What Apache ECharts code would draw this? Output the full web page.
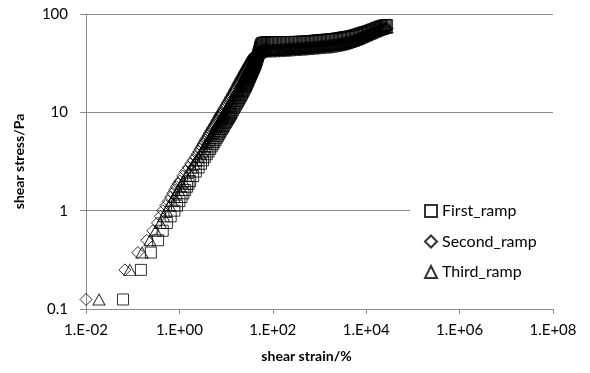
<!DOCTYPE html>
<html>
<head>
<meta charset="utf-8">
<script src="https://cdn.jsdelivr.net/npm/echarts@6/dist/echarts.min.js"></script>
<style>html,body{margin:0;padding:0;background:#fff;}#c{width:590px;height:373px;}</style>
</head>
<body>
<div id="c"></div>
<script>
// points are [shear strain %, shear stress Pa]
const firstRampLow = [
[0.062,0.125],[0.15,0.25],[0.245,0.375],[0.35,0.5],[0.44,0.625],[0.54,0.75],[0.65,0.875],[0.78,1.0],
[0.89,1.125],[1.0,1.25],[1.11,1.375],[1.22,1.5],[1.33,1.625],[1.45,1.75],[1.57,1.875]
];
const firstRampRise = [
[1.7,2],[1.97,2.25],[2.25,2.5],[2.57,2.75],[2.9,3],[3.2,3.25],[3.5,3.5],[3.85,3.75],[4.2,4],[4.55,4.25],
[4.9,4.5],[5.25,4.75],[5.6,5],[5.95,5.25],[6.3,5.5],[6.65,5.75],[7.0,6],[7.35,6.25],[7.7,6.5],[8.1,6.75],
[8.5,7],[8.85,7.25],[9.2,7.5],[9.6,7.75],[10.0,8],[10.4,8.25],[10.8,8.5],[11.2,8.75],[11.6,9],[12.0,9.25],
[12.4,9.5],[12.8,9.75],[13.2,10],[14.0,10.5],[14.8,11],[15.6,11.5],[16.4,12],[17.2,12.5],[18,13],[18.8,13.5],
[19.6,14],[20.4,14.5],[21.2,15],[21.9,15.5],[22.7,16],[23.5,16.5],[24.2,17],[25,17.5],[25.8,18],[26.4,18.5],
[27.1,19],[27.8,19.5],[28.5,20],[29.2,20.5],[29.8,21],[30.4,21.5],[31,22],[31.7,22.5],[32.3,23],[32.9,23.5],
[33.5,24],[34.2,24.5],[34.8,25],[35.4,25.5],[36,26],[36.7,26.5],[37.3,27],[37.9,27.5],[38.5,28],[39.2,28.5],
[39.8,29],[40.4,29.5],[41,30],[41.5,30.5],[42,31],[42.5,31.5],[43,32],[43.5,32.5],[44,33],[44.5,33.5],
[45,34],[46,35],[47,36],[47.8,37],[48.5,38],[49.3,39],[50,40],[50.8,41],[51.5,42],[52.2,43],
[53,44],[53.5,45],[54,46],[54.8,47],[55.5,48],[56.4,49],[57.5,50],[59.5,50.5],[62,51],[66,51.3],
[70,51.5],[75,51.6]
];
const firstRampPlateau = [
[80,51.7],[85,51.7],[91,51.8],[97,51.8],[104,51.8],[111,51.8],[118,51.8],[126,51.8],[135,51.8],[144,51.8],
[154,51.8],[164,51.9],[175,51.9],[187,51.9],[200,51.9],[214,51.9],[228,51.9],[244,51.9],[260,51.9],[278,52],
[296,52],[317,52],[338,52],[361,52.1],[385,52.1],[411,52.2],[439,52.3],[469,52.4],[500,52.5],[534,52.6],
[570,52.7],[609,52.85],[650,53],[694,53.15],[741,53.3],[791,53.45],[845,53.6],[902,53.75],[963,53.9],[1030,54.05],
[1100,54.2],[1170,54.35],[1250,54.5],[1340,54.65],[1430,54.8],[1530,54.95],[1630,55.1],[1740,55.25],[1850,55.4],[1980,55.6],
[2110,55.8],[2250,56.05],[2410,56.3],[2570,56.6],[2750,56.9],[2930,57.2],[3130,57.5],[3340,57.8],[3570,58.1],[3810,58.35],
[4070,58.6],[4350,58.95],[4640,59.3],[4950,59.75],[5290,60.2],[5650,60.75],[6030,61.3],[6440,61.9],[6870,62.5],[7330,63.15],
[7830,63.8],[8360,64.4],[8930,65],[9540,65.6],[10200,66.2],[10900,66.9],[11600,67.6],[12400,68.35],[13200,69.1],[14100,69.95],
[15100,70.8],[16100,71.7],[17200,72.6],[18400,73.5],[19600,74.4],[20900,75.1],[22300,75.8],[23800,76.3],[25400,76.8],[26700,77.1],
[28000,77.4]
];
const secondRampLow = [
[0.010,0.125],[0.068,0.25],[0.129,0.375],[0.20,0.5],[0.27,0.625],[0.34,0.75],[0.39,0.875],[0.44,1.0],
[0.51,1.125],[0.58,1.25],[0.65,1.375],[0.72,1.5],[0.79,1.625],[0.86,1.75],[0.94,1.875]
];
const secondRampRise = [
[1.02,2],[1.18,2.25],[1.35,2.5],[1.55,2.75],[1.75,3],[1.97,3.25],[2.2,3.5],[2.4,3.75],[2.6,4],[2.8,4.25],
[3.0,4.5],[3.2,4.75],[3.4,5],[3.62,5.25],[3.85,5.5],[4.07,5.75],[4.3,6],[4.52,6.25],[4.75,6.5],[4.97,6.75],
[5.2,7],[5.45,7.25],[5.7,7.5],[5.95,7.75],[6.2,8],[6.42,8.25],[6.65,8.5],[6.87,8.75],[7.1,9],[7.35,9.25],
[7.6,9.5],[7.85,9.75],[8.1,10],[8.6,10.5],[9.1,11],[9.65,11.5],[10.2,12],[10.7,12.5],[11.2,13],[11.75,13.5],
[12.3,14],[12.85,14.5],[13.4,15],[13.95,15.5],[14.5,16],[15,16.5],[15.5,17],[16.05,17.5],[16.6,18],[17.15,18.5],
[17.7,19],[18.25,19.5],[18.8,20],[19.35,20.5],[19.9,21],[20.45,21.5],[21,22],[21.6,22.5],[22.2,23],[22.75,23.5],
[23.3,24],[23.85,24.5],[24.4,25],[24.95,25.5],[25.5,26],[26.15,26.5],[26.8,27],[27.4,27.5],[28,28],[28.6,28.5],
[29.2,29],[29.85,29.5],[30.5,30],[31.15,30.5],[31.8,31],[32.4,31.5],[33,32],[33.6,32.5],[34.2,33],[34.85,33.5],
[35.5,34],[36.1,34.5],[36.7,35],[37.35,35.5],[38,36],[38.75,36.5],[39.5,37],[40.25,37.5],[41,38],[42,38.5],
[43,39],[45,39.5],[47.5,40],[50,40.5],[53,40.8],[57,41],[62,41.2],[66,41.3],[72,41.4],[78,41.5]
];
const secondRampPlateau = [
[84,41.55],[91,41.6],[97,41.65],[104,41.7],[111,41.75],[118,41.8],[126,41.85],[135,41.9],[144,41.95],[154,42],
[164,42.1],[175,42.2],[187,42.25],[200,42.3],[214,42.4],[228,42.5],[244,42.6],[260,42.7],[278,42.8],[296,42.9],
[317,43],[338,43.1],[361,43.15],[385,43.2],[411,43.3],[439,43.4],[469,43.5],[500,43.6],[534,43.7],[570,43.8],
[609,43.9],[650,44],[694,44.1],[741,44.2],[791,44.35],[845,44.5],[902,44.6],[963,44.7],[1030,44.85],[1100,45],
[1170,45.1],[1250,45.2],[1340,45.35],[1430,45.5],[1530,45.6],[1630,45.7],[1740,45.8],[1850,45.9],[1980,46.1],[2110,46.3],
[2250,46.55],[2410,46.8],[2570,47.1],[2750,47.4],[2930,47.7],[3130,48],[3340,48.3],[3570,48.6],[3810,48.95],[4070,49.3],
[4350,49.75],[4640,50.2],[4950,50.75],[5290,51.3],[5650,51.95],[6030,52.6],[6440,53.3],[6870,54],[7330,54.8],[7830,55.6],
[8360,56.4],[8930,57.2],[9540,58.05],[10200,58.9],[10900,59.75],[11600,60.6],[12400,61.45],[13200,62.3],[14100,63.2],[15100,64.1],
[16100,65],[17200,65.9],[18400,66.65],[19600,67.4],[20900,68.15],[22300,68.9],[23800,69.6],[25400,70.3],[26700,70.8],[28000,71.3]
];
const thirdRampLow = [
[0.019,0.125],[0.087,0.25],[0.158,0.375],[0.234,0.5],[0.31,0.625],[0.39,0.75],[0.46,0.875],[0.53,1.0],
[0.61,1.125],[0.69,1.25],[0.78,1.375],[0.86,1.5],[0.95,1.625],[1.03,1.75],[1.12,1.875]
];
const thirdRampRise = [
[1.21,2],[1.4,2.25],[1.6,2.5],[1.82,2.75],[2.05,3],[2.3,3.25],[2.55,3.5],[2.8,3.75],[3.05,4],[3.28,4.25],
[3.5,4.5],[3.75,4.75],[4.0,5],[4.25,5.25],[4.5,5.5],[4.75,5.75],[5.0,6],[5.25,6.25],[5.5,6.5],[5.77,6.75],
[6.05,7],[6.32,7.25],[6.6,7.5],[6.87,7.75],[7.15,8],[7.42,8.25],[7.7,8.5],[7.97,8.75],[8.25,9],[8.52,9.25],
[8.8,9.5],[9.1,9.75],[9.4,10],[9.95,10.5],[10.5,11],[11.1,11.5],[11.7,12],[12.3,12.5],[12.9,13],[13.5,13.5],
[14.1,14],[14.7,14.5],[15.3,15],[15.9,15.5],[16.5,16],[17.1,16.5],[17.7,17],[18.3,17.5],[18.9,18],[19.5,18.5],
[20.1,19],[20.7,19.5],[21.3,20],[21.9,20.5],[22.5,21],[23.1,21.5],[23.7,22],[24.3,22.5],[24.9,23],[25.5,23.5],
[26.1,24],[26.7,24.5],[27.3,25],[27.9,25.5],[28.5,26],[29.15,26.5],[29.8,27],[30.4,27.5],[31,28],[31.6,28.5],
[32.2,29],[32.85,29.5],[33.5,30],[34.1,30.5],[34.7,31],[35.35,31.5],[36,32],[36.6,32.5],[37.2,33],[37.85,33.5],
[38.5,34],[39.1,34.5],[39.7,35],[40.35,35.5],[41,36],[41.75,36.5],[42.5,37],[43.25,37.5],[44,38],[45,38.5],
[46,39],[47.2,39.5],[48.5,40],[49.7,40.4],[51,40.8],[52.5,41.2],[54,41.5],[56,41.8],[58,42],[60.5,42.2],
[63,42.4],[66,42.6],[69,42.7],[72.5,42.85],[76,43]
];
const thirdRampPlateau = [
[84,43.1],[91,43.2],[97,43.25],[104,43.3],[111,43.35],[118,43.4],[126,43.45],[135,43.5],[144,43.55],[154,43.6],
[164,43.7],[175,43.8],[187,43.9],[200,44],[214,44.1],[228,44.2],[244,44.3],[260,44.4],[278,44.5],[296,44.6],
[317,44.7],[338,44.8],[361,44.9],[385,45],[411,45.1],[439,45.2],[469,45.3],[500,45.4],[534,45.55],[570,45.7],
[609,45.8],[650,45.9],[694,46.05],[741,46.2],[791,46.35],[845,46.5],[902,46.65],[963,46.8],[1030,46.95],[1100,47.1],
[1170,47.25],[1250,47.4],[1340,47.55],[1430,47.7],[1530,47.85],[1630,48],[1740,48.15],[1850,48.3],[1980,48.5],[2110,48.7],
[2250,48.95],[2410,49.2],[2570,49.5],[2750,49.8],[2930,50.1],[3130,50.4],[3340,50.75],[3570,51.1],[3810,51.45],[4070,51.8],
[4350,52.25],[4640,52.7],[4950,53.25],[5290,53.8],[5650,54.4],[6030,55],[6440,55.7],[6870,56.4],[7330,57.2],[7830,58],
[8360,58.8],[8930,59.6],[9540,60.4],[10200,61.2],[10900,62.05],[11600,62.9],[12400,63.75],[13200,64.6],[14100,65.5],[15100,66.4],
[16100,67.3],[17200,68.2],[18400,69],[19600,69.8],[20900,70.55],[22300,71.3],[23800,71.95],[25400,72.6],[26700,73.05],[28000,73.5]
];
const seriesNames = ['First_ramp','Second_ramp','Third_ramp'];
const xTitle = 'shear strain/%';
const yTitle = 'shear stress/Pa';

const firstRamp = firstRampLow.concat(firstRampRise, firstRampPlateau);
const secondRamp = secondRampLow.concat(secondRampRise, secondRampPlateau);
const thirdRamp = thirdRampLow.concat(thirdRampRise, thirdRampPlateau);

const FONT = 'Lato, "Open Sans", sans-serif';
const GRID_COLOR = '#8c8c8c';

function xFmt(v){
  const e = Math.round(Math.log10(v));
  return '1.E' + (e < 0 ? '-' : '+') + String(Math.abs(e)).padStart(2,'0');
}
function yFmt(v){
  const e = Math.round(Math.log10(v));
  return e < 0 ? '0.1' : String(Math.pow(10,e));
}

const chart = echarts.init(document.getElementById('c'), null, {renderer:'canvas'});
const mk = (name, data, symbol, size) => ({
  name, type:'scatter', data, symbol, symbolSize:size,
  itemStyle:{color:'rgba(0,0,0,0)', borderColor:'#000', borderWidth:1},
  emphasis:{disabled:true}, animation:false, large:false
});
chart.setOption({
  animation:false,
  textStyle:{fontFamily:FONT},
  grid:{left:86, right:37, top:14, bottom:64, containLabel:false},
  xAxis:{
    type:'log', logBase:10, min:0.01, max:1e8, interval:2,
    name:xTitle, nameLocation:'middle', nameGap:40,
    nameTextStyle:{fontFamily:FONT, fontSize:14, fontWeight:'bold', color:'#000', padding:[0,26,0,0]},
    axisLine:{show:true, lineStyle:{color:GRID_COLOR, width:1}},
    axisTick:{show:true, length:5, inside:false, lineStyle:{color:GRID_COLOR}},
    axisLabel:{formatter:xFmt, fontFamily:FONT, fontSize:15, color:'#000', margin:14},
    splitLine:{show:false}, minorTick:{show:false}
  },
  yAxis:{
    type:'log', logBase:10, min:0.1, max:100, interval:1,
    name:yTitle, nameLocation:'middle', nameGap:60, nameRotate:90,
    nameTextStyle:{fontFamily:FONT, fontSize:14, fontWeight:'bold', color:'#000'},
    axisLine:{show:true, lineStyle:{color:GRID_COLOR, width:1}},
    axisTick:{show:true, length:6, lineStyle:{color:GRID_COLOR}},
    axisLabel:{formatter:yFmt, fontFamily:FONT, fontSize:15, color:'#000', margin:18},
    splitLine:{show:true, lineStyle:{color:GRID_COLOR, width:1}}, minorTick:{show:false}
  },
  legend:{
    orient:'vertical', left:410, top:199, itemGap:14.5,
    itemWidth:12, itemHeight:12, backgroundColor:'#fff', padding:[4,40,4,14],
    textStyle:{fontFamily:FONT, fontSize:16, lineHeight:16, color:'#000'},
    data:[
      {name:seriesNames[0], icon:'rect'},
      {name:seriesNames[1], icon:'diamond'},
      {name:seriesNames[2], icon:'triangle'}
    ]
  },
  series:[
    mk(seriesNames[0], firstRamp, 'rect', 11),
    mk(seriesNames[1], secondRamp, 'diamond', 12),
    mk(seriesNames[2], thirdRamp, 'triangle', [12,11])
  ]
});
</script>
</body>
</html>
